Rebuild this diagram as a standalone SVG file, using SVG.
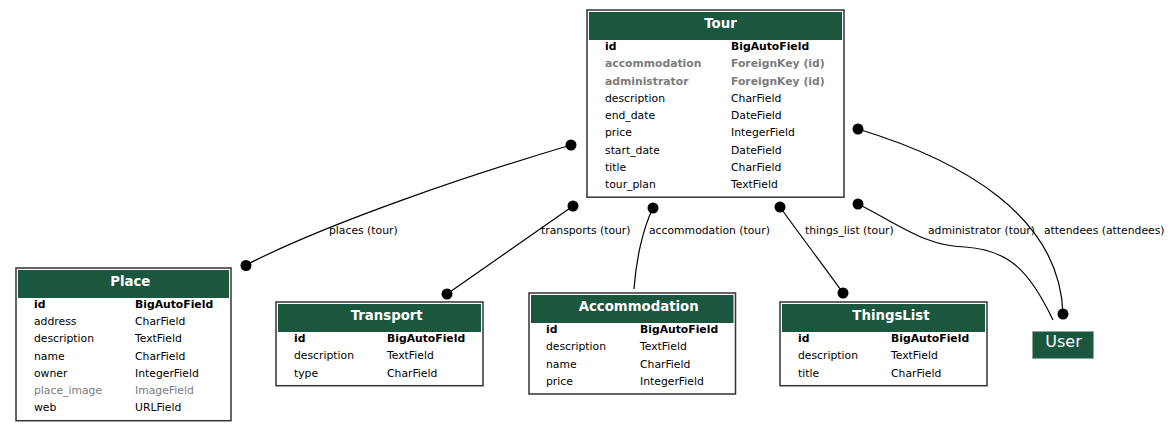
<svg xmlns="http://www.w3.org/2000/svg" width="1173" height="431" viewBox="0 0 1173 431">
<style>
text{font-family:"DejaVu Sans","Liberation Sans",sans-serif;font-size:10.8px;fill:#000}
.box{fill:#fff;stroke:#333;stroke-width:1.5}
.hdr{fill:#1b563f}
.ttl{font-size:13.3px;font-weight:bold;fill:#fff;text-anchor:middle}
.b{font-weight:bold}
.g{fill:#7b7b7b}
.edge{fill:none;stroke:#000;stroke-width:1.2}
.dot{fill:#000}
.lbl{font-size:10.8px}
</style>
<rect width="1173" height="431" fill="#fff"/>
<g id="connectors">
<path class="edge" d="M571,145 C470,175 330,222 246,265"/>
<circle class="dot" cx="571" cy="145" r="5.5"/><circle class="dot" cx="246" cy="265.5" r="5.5"/>
<text class="lbl" x="329" y="234">places (tour)</text>
<path class="edge" d="M573,206 C530,236 490,264 447,294"/>
<circle class="dot" cx="573" cy="206" r="5.5"/><circle class="dot" cx="447" cy="294" r="5.5"/>
<text class="lbl" x="541" y="234">transports (tour)</text>
<path class="edge" d="M653,208 C643,228 636,260 634,289"/>
<circle class="dot" cx="653" cy="208" r="5.5"/>
<text class="lbl" x="649" y="234">accommodation (tour)</text>
<path class="edge" d="M780,207 C800,235 823,265 843,293"/>
<circle class="dot" cx="780" cy="207" r="5.5"/><circle class="dot" cx="843" cy="293" r="5.5"/>
<text class="lbl" x="805" y="234">things_list (tour)</text>
<path class="edge" d="M858,204 C900,225 925,246 965,247 C1010,250 1030,272 1053,320"/>
<circle class="dot" cx="858" cy="204" r="5.5"/>
<text class="lbl" x="928" y="234">administrator (tour)</text>
<path class="edge" d="M858,129 C960,160 1060,215 1063,314"/>
<circle class="dot" cx="858" cy="129" r="5.5"/><circle class="dot" cx="1063" cy="314" r="5.5"/>
<text class="lbl" x="1044" y="234">attendees (attendees)</text>
</g>
<g id="Tour">
<rect class="box" x="587" y="10" width="257" height="187.2"/>
<rect class="hdr" x="589" y="12" width="253" height="28"/>
<text class="ttl" x="720.5" y="27.7">Tour</text>
<text class="b" x="605" y="50">id</text><text class="b" x="731" y="50">BigAutoField</text>
<text class="b g" x="605" y="67.2">accommodation</text><text class="b g" x="731" y="67.2">ForeignKey (id)</text>
<text class="b g" x="605" y="84.5">administrator</text><text class="b g" x="731" y="84.5">ForeignKey (id)</text>
<text x="605" y="101.7">description</text><text x="731" y="101.7">CharField</text>
<text x="605" y="119">end_date</text><text x="731" y="119">DateField</text>
<text x="605" y="136.2">price</text><text x="731" y="136.2">IntegerField</text>
<text x="605" y="153.5">start_date</text><text x="731" y="153.5">DateField</text>
<text x="605" y="170.7">title</text><text x="731" y="170.7">CharField</text>
<text x="605" y="188">tour_plan</text><text x="731" y="188">TextField</text>
</g>
<g id="Place">
<rect class="box" x="16" y="268" width="215" height="152.7"/>
<rect class="hdr" x="18" y="270" width="211" height="28"/>
<text class="ttl" x="130.3" y="285.5">Place</text>
<text class="b" x="34" y="307.8">id</text><text class="b" x="135" y="307.8">BigAutoField</text>
<text x="34" y="325">address</text><text x="135" y="325">CharField</text>
<text x="34" y="342.3">description</text><text x="135" y="342.3">TextField</text>
<text x="34" y="359.5">name</text><text x="135" y="359.5">CharField</text>
<text x="34" y="376.8">owner</text><text x="135" y="376.8">IntegerField</text>
<text class="g" x="34" y="394">place_image</text><text class="g" x="135" y="394">ImageField</text>
<text x="34" y="411.3">web</text><text x="135" y="411.3">URLField</text>
</g>
<g id="Transport">
<rect class="box" x="276" y="302" width="207" height="83.7"/>
<rect class="hdr" x="278" y="304" width="203" height="28"/>
<text class="ttl" x="386.7" y="319.7">Transport</text>
<text class="b" x="294" y="342">id</text><text class="b" x="387" y="342">BigAutoField</text>
<text x="294" y="359.2">description</text><text x="387" y="359.2">TextField</text>
<text x="294" y="376.5">type</text><text x="387" y="376.5">CharField</text>
</g>
<g id="Accommodation">
<rect class="box" x="529" y="293" width="206.5" height="101"/>
<rect class="hdr" x="531" y="295" width="202.5" height="28"/>
<text class="ttl" x="638.7" y="311">Accommodation</text>
<text class="b" x="546" y="333">id</text><text class="b" x="640" y="333">BigAutoField</text>
<text x="546" y="350.2">description</text><text x="640" y="350.2">TextField</text>
<text x="546" y="367.5">name</text><text x="640" y="367.5">CharField</text>
<text x="546" y="384.7">price</text><text x="640" y="384.7">IntegerField</text>
</g>
<g id="ThingsList">
<rect class="box" x="780" y="302" width="207" height="83.7"/>
<rect class="hdr" x="782" y="304" width="203" height="28"/>
<text class="ttl" x="891" y="319.5">ThingsList</text>
<text class="b" x="798" y="342">id</text><text class="b" x="891" y="342">BigAutoField</text>
<text x="798" y="359.2">description</text><text x="891" y="359.2">TextField</text>
<text x="798" y="376.5">title</text><text x="891" y="376.5">CharField</text>
</g>
<g id="User">
<rect x="1032.5" y="331.5" width="61" height="27" fill="#1b563f" stroke="#8fa39a" stroke-width="1"/>
<text x="1063.5" y="347" style="font-size:16px;fill:#fff;text-anchor:middle">User</text>
</g>
</svg>
